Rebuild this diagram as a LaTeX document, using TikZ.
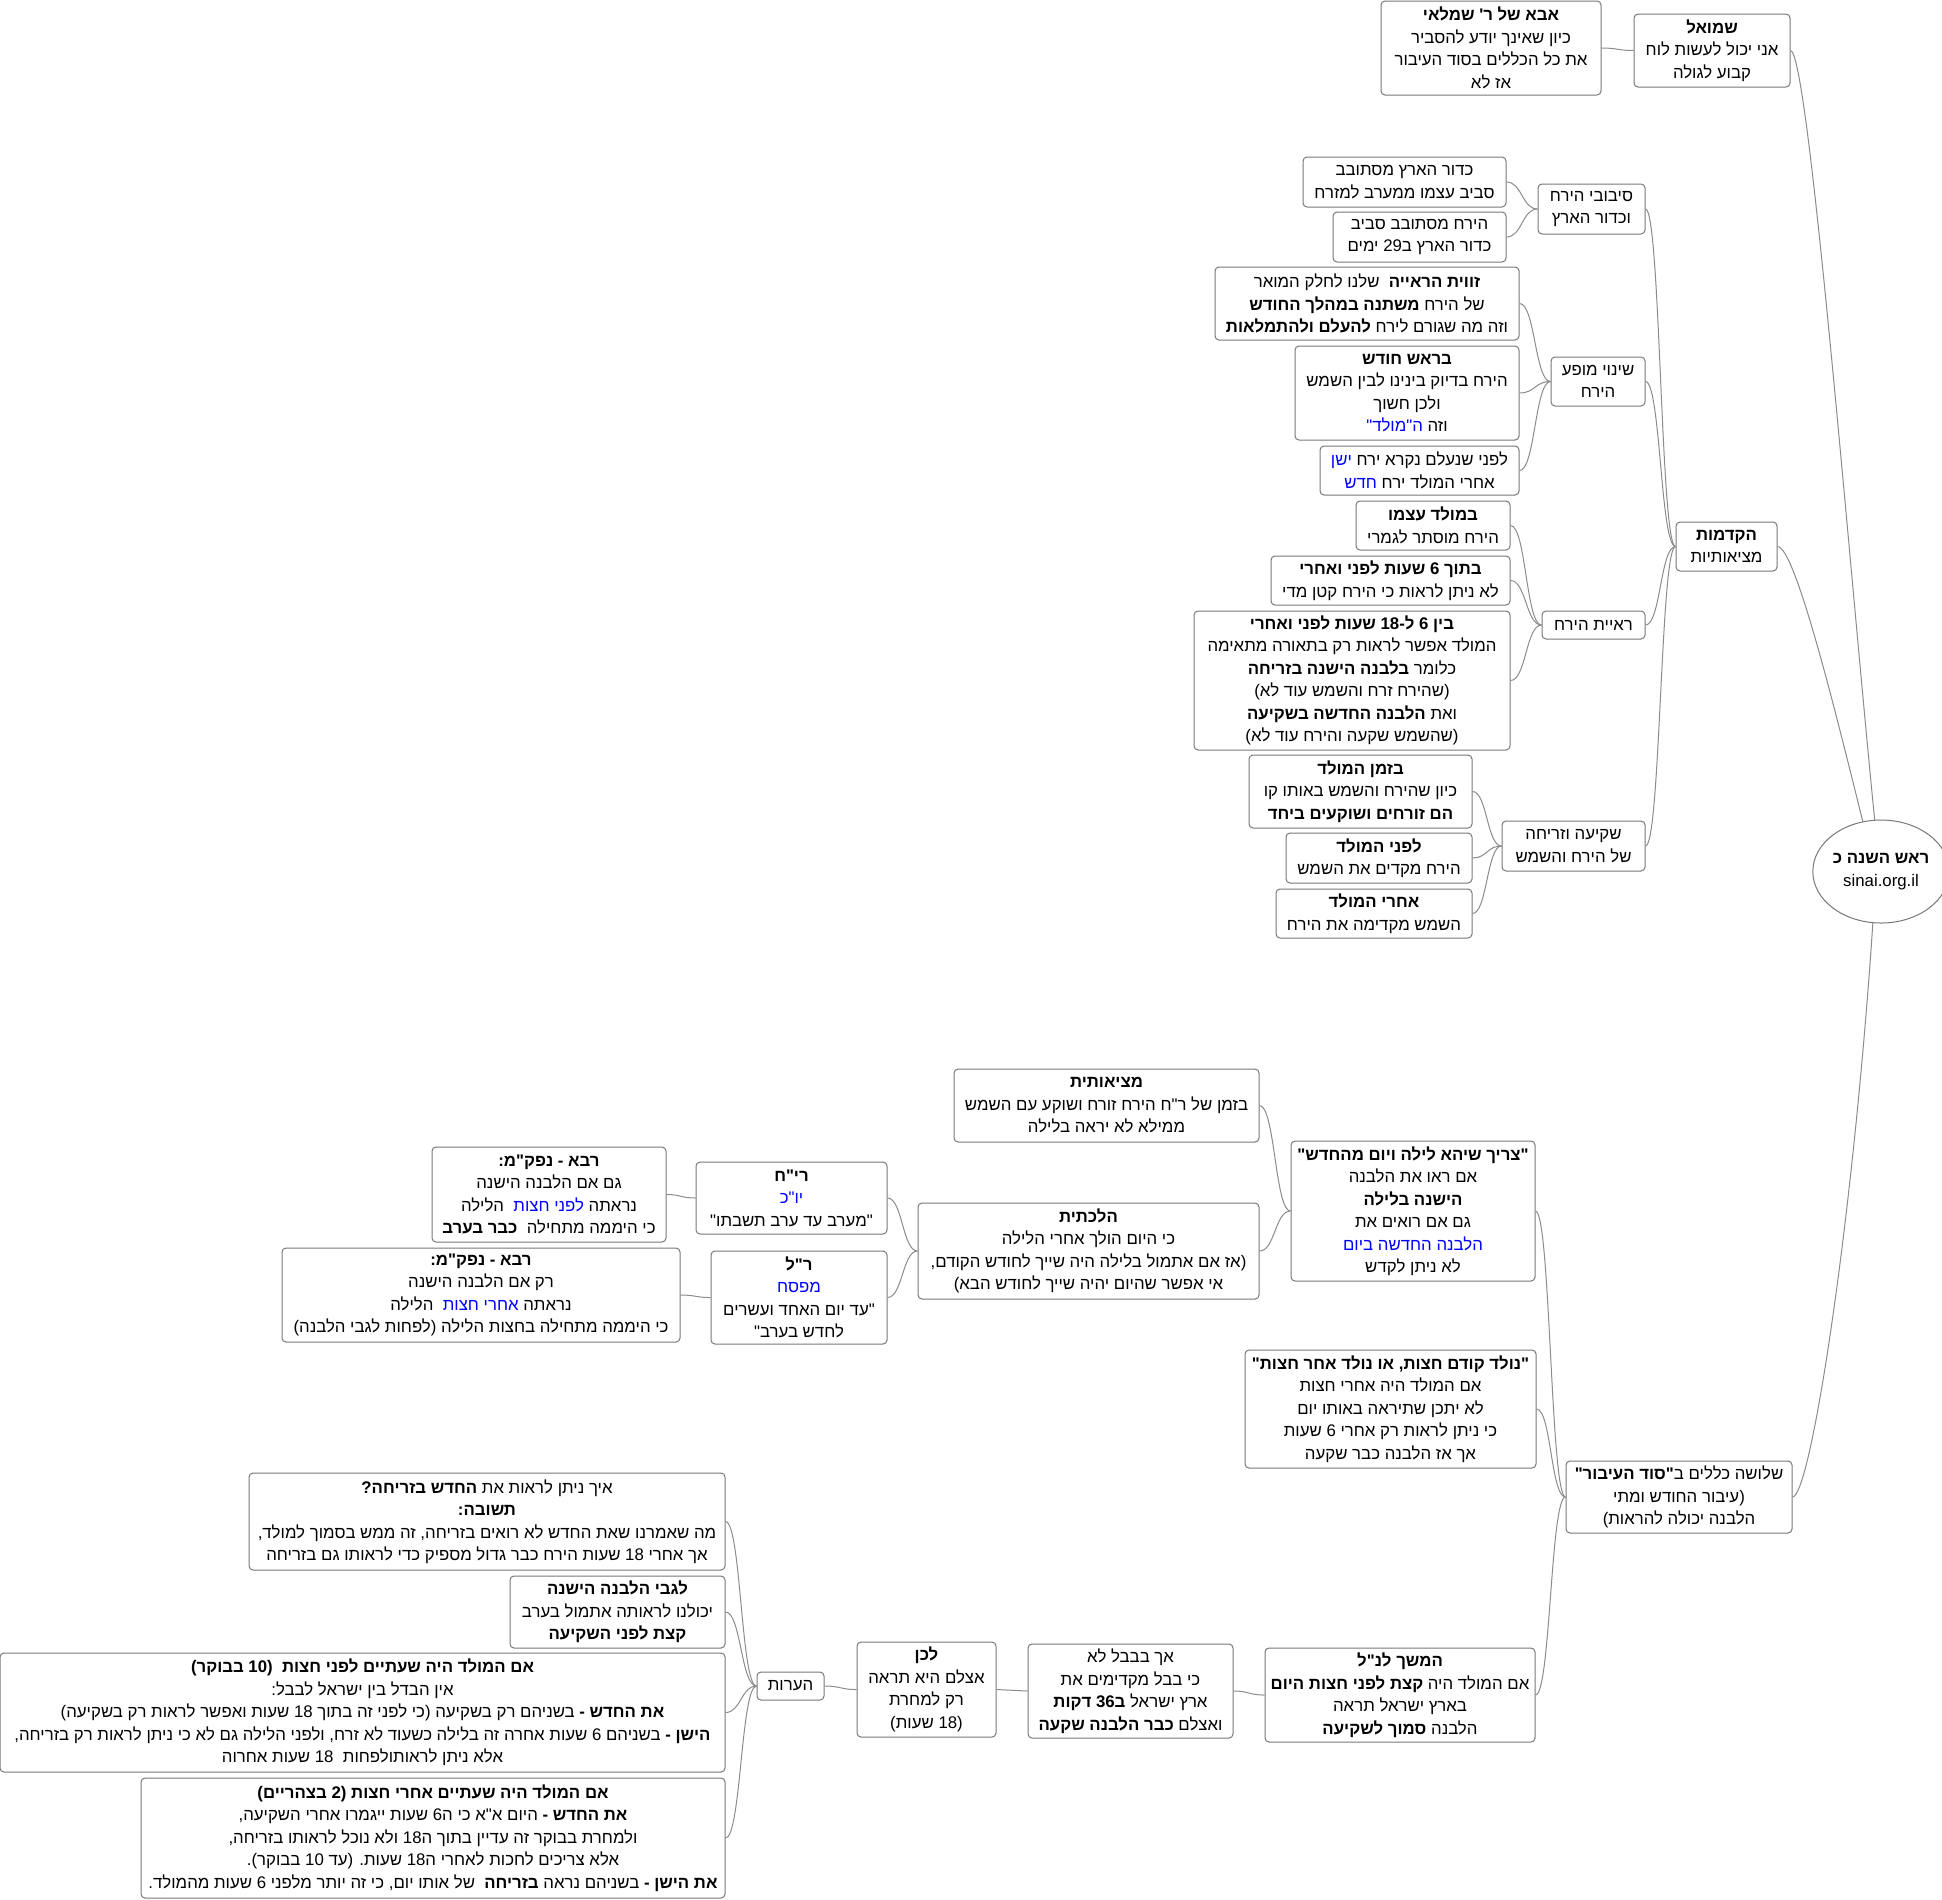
\documentclass[tikz,border=0pt]{standalone}
\usepackage{fontspec}
\setmainfont{Liberation Sans}[Script=Hebrew,Ligatures=TeXOff]
\TeXXeTstate=1
\usetikzlibrary{calc,shapes.geometric}
\definecolor{hblue}{RGB}{0,0,255}
\definecolor{boxc}{RGB}{120,120,120}
\definecolor{linec}{RGB}{140,140,140}
\newcommand\R[1]{\beginR#1\endR}
\newcommand\B[1]{\textbf{#1}}
\newcommand\U[1]{\textcolor{hblue}{\beginR#1\endR}}
\tikzset{
  box/.style={draw=boxc, line width=1pt, rounded corners=4pt, fill=white, align=center,
    inner xsep=2pt, inner ysep=0pt, font=\fontsize{16.8}{22.5}\selectfont},
  link/.style={draw=linec, line width=1pt},
}
\newcommand\nd[6]{\node[box, minimum width=#4, minimum height=#5] (#1) at (#2,#3) {#6};}
\newcommand\lk[2]{\path (#1.west) -- (#2.east) coordinate[pos=0.5] (mid);
  \draw[link] (#1.west) .. controls (mid |- #1.west) and (mid |- #2.east) .. (#2.east);}
\begin{document}
\begin{tikzpicture}[x=1pt,y=-1pt]
\fill[white] (0,0) rectangle (1942,1899);
\useasboundingbox (0,0) rectangle (1942,1899);
% top right
\nd{abba}{1491}{48}{220}{94}{\R{\B{אבא של ר' שמלאי}}\\\R{כיון שאינך יודע להסביר}\\\R{את כל הכללים בסוד העיבור}\\\R{אז לא}}
\nd{shmuel}{1712}{50.5}{156}{73}{\R{\B{שמואל}}\\\R{אני יכול לעשות לוח}\\\R{קבוע לגולה}}
% hakdamot branch
\nd{kadur}{1404.5}{182}{203}{50}{\R{כדור הארץ מסתובב}\\\R{סביב עצמו ממערב למזרח}}
\nd{yareach}{1419.5}{237}{173}{50}{\R{הירח מסתובב סביב}\\\R{כדור הארץ ב29 ימים}}
\nd{sivuvei}{1591.5}{209}{107}{50}{\R{סיבובי הירח}\\\R{וכדור הארץ}}
\nd{zavit}{1367}{303.5}{304}{73}{\R{\B{זווית הראייה}\ \ שלנו לחלק המואר}\\\R{של הירח \B{משתנה במהלך החודש}}\\\R{וזה מה שגורם לירח \B{להעלם ולהתמלאות}}}
\nd{rosh}{1407}{393}{224}{94}{\R{\B{בראש חודש}}\\\R{הירח בדיוק בינינו לבין השמש}\\\R{ולכן חשוך}\\\U{"}\U{ה"מולד} \R{וזה}}
\nd{lifnei}{1419.5}{470.5}{199}{49}{\U{ישן} \R{לפני שנעלם נקרא ירח}\\\U{חדש} \R{אחרי המולד ירח}}
\nd{shinui}{1598}{381.5}{94}{49}{\R{שינוי מופע}\\\R{הירח}}
\nd{bemolad}{1433}{525.5}{154}{49}{\R{\B{במולד עצמו}}\\\R{הירח מוסתר לגמרי}}
\nd{betoch}{1390.5}{580.5}{239}{49}{\R{\B{בתוך 6 שעות לפני ואחרי}}\\\R{לא ניתן לראות כי הירח קטן מדי}}
\nd{bein}{1352}{680.5}{316}{139}{\R{\B{בין 6 ל-18 שעות לפני ואחרי}}\\\R{המולד אפשר לראות רק בתאורה מתאימה}\\\R{כלומר \B{בלבנה הישנה בזריחה}}\\\R{(שהירח זרח והשמש עוד לא)}\\\R{ואת \B{הלבנה החדשה בשקיעה}}\\\R{(שהשמש שקעה והירח עוד לא)}}
\nd{reiyat}{1593.5}{625}{103}{28}{\R{ראיית הירח}}
\nd{hakdamot}{1726.5}{546.5}{101}{49}{\R{\B{הקדמות}}\\\R{מציאותיות}}
\nd{bizman}{1360.5}{791.5}{223}{73}{\R{\B{בזמן המולד}}\\\R{כיון שהירח והשמש באותו קו}\\\R{\B{הם זורחים ושוקעים ביחד}}}
\nd{lifneiMolad}{1379}{858}{186}{50}{\R{\B{לפני המולד}}\\\R{הירח מקדים את השמש}}
\nd{achrei}{1374}{913.5}{196}{49}{\R{\B{אחרי המולד}}\\\R{השמש מקדימה את הירח}}
\nd{shkia}{1573.5}{846}{143}{50}{\R{שקיעה וזריחה}\\\R{של הירח והשמש}}
% root
\node[draw=boxc, line width=1pt, ellipse, fill=white, minimum width=122, minimum height=103, inner sep=0pt, align=center, font=\fontsize{16.8}{22.5}\selectfont] (root) at (1881,871.5) {\R{\B{ראש השנה כ}}\\sinai.org.il};
% lower branch
\nd{metziutit}{1106.5}{1105.5}{305}{73}{\R{\B{מציאותית}}\\\R{בזמן של ר"ח הירח זורח ושוקע עם השמש}\\\R{ממילא לא יראה בלילה}}
\nd{hilchatit}{1088.5}{1251}{341}{96}{\R{\B{הלכתית}}\\\R{כי היום הולך אחרי הלילה}\\\R{(אז אם אתמול בלילה היה שייך לחודש הקודם,}\\\R{אי אפשר שהיום יהיה שייך לחודש הבא)}}
\nd{tzarich}{1413}{1211}{244}{140}{\R{\B{"צריך שיהא לילה ויום מהחדש"}}\\\R{אם ראו את הלבנה}\\\R{\B{הישנה בלילה}}\\\R{גם אם רואים את}\\\U{הלבנה החדשה ביום}\\\R{לא ניתן לקדש}}
\nd{rich}{791.5}{1198}{191}{72}{\R{\B{רי"ח}}\\\U{יו"כ}\\\R{"מערב עד ערב תשבתו"}}
\nd{rava1}{549}{1194.5}{234}{95}{\R{\B{רבא - נפק"מ:}}\\\R{גם אם הלבנה הישנה}\\\R{הלילה}\ \ \U{לפני חצות} \R{נראתה}\\\R{כי היממה מתחילה\ \ \B{כבר בערב}}}
\nd{rl}{799}{1297.5}{176}{93}{\R{\B{ר"ל}}\\\U{מפסח}\\\R{"עד יום האחד ועשרים}\\\R{לחדש בערב"}}
\nd{rava2}{481}{1295}{398}{94}{\R{\B{רבא - נפק"מ:}}\\\R{רק אם הלבנה הישנה}\\\R{הלילה}\ \ \U{אחרי חצות} \R{נראתה}\\\R{כי היממה מתחילה בחצות הלילה (לפחות לגבי הלבנה)}}
\nd{nolad}{1390.5}{1409}{291}{118}{\R{\B{"נולד קודם חצות, או נולד אחר חצות"}}\\\R{אם המולד היה אחרי חצות}\\\R{לא יתכן שתיראה באותו יום}\\\R{כי ניתן לראות רק אחרי 6 שעות}\\\R{אך אז הלבנה כבר שקעה}}
\nd{shlosha}{1679}{1497}{226}{72}{\R{שלושה כללים ב\B{"סוד העיבור"}}\\\R{(עיבור החודש ומתי}\\\R{הלבנה יכולה להראות)}}
\nd{hemshech}{1400}{1695}{270}{94}{\R{\B{המשך לנ"ל}}\\\R{אם המולד היה \B{קצת לפני חצות היום}}\\\R{בארץ ישראל תראה}\\\R{הלבנה \B{סמוך לשקיעה}}}
\nd{ach}{1130.5}{1691}{205}{94}{\R{אך בבבל לא}\\\R{כי בבל מקדימים את}\\\R{ארץ ישראל \B{ב36 דקות}}\\\R{ואצלם \B{כבר הלבנה שקעה}}}
\nd{lachen}{926.5}{1689.5}{139}{95}{\R{\B{לכן}}\\\R{אצלם היא תראה}\\\R{רק למחרת}\\\R{(18 שעות)}}
\nd{haarot}{790.5}{1686}{67}{28}{\R{הערות}}
\nd{eich}{487}{1521.5}{476}{97}{\R{איך ניתן לראות את \B{החדש בזריחה?}}\\\R{\B{תשובה:}}\\\R{מה שאמרנו שאת החדש לא רואים בזריחה, זה ממש בסמוך למולד,}\\\R{אך אחרי 18 שעות הירח כבר גדול מספיק כדי לראותו גם בזריחה}}
\nd{legabei}{617.5}{1612}{215}{72}{\R{\B{לגבי הלבנה הישנה}}\\\R{יכולנו לראותה אתמול בערב}\\\R{\B{קצת לפני השקיעה}}}
\nd{imten}{362.5}{1712.5}{725}{119}{\R{\B{אם המולד היה שעתיים לפני חצות\ \ (10 בבוקר)}}\\\R{אין הבדל בין ישראל לבבל:}\\\R{\B{את החדש -} בשניהם רק בשקיעה (כי לפני זה בתוך 18 שעות ואפשר לראות רק בשקיעה)}\\\R{\B{הישן -} בשניהם 6 שעות אחרה זה בלילה כשעוד לא זרח, ולפני הלילה גם לא כי ניתן לראות רק בזריחה,}\\\R{אלא ניתן לראותולפחות\ \ 18 שעות אחרוה}}
\nd{imtwo}{433}{1838}{584}{120}{\R{\B{אם המולד היה שעתיים אחרי חצות (2 בצהריים)}}\\\R{\B{את החדש -} היום א"א כי ה6 שעות ייגמרו אחרי השקיעה,}\\\R{ולמחרת בבוקר זה עדיין בתוך ה18 ולא נוכל לראותו בזריחה,}\\\R{אלא צריכים לחכות לאחרי ה18 שעות. (עד 10 בבוקר).}\\\R{\B{את הישן -} בשניהם נראה \B{בזריחה}\ \ של אותו יום, כי זה יותר מלפני 6 שעות מהמולד.}}
% connectors
\lk{shmuel}{abba}
\lk{sivuvei}{kadur}
\lk{sivuvei}{yareach}
\lk{shinui}{zavit}
\lk{shinui}{rosh}
\lk{shinui}{lifnei}
\lk{reiyat}{bemolad}
\lk{reiyat}{betoch}
\lk{reiyat}{bein}
\lk{shkia}{bizman}
\lk{shkia}{lifneiMolad}
\lk{shkia}{achrei}
\lk{hakdamot}{sivuvei}
\lk{hakdamot}{shinui}
\lk{hakdamot}{reiyat}
\lk{hakdamot}{shkia}
\lk{shlosha}{tzarich}
\lk{shlosha}{nolad}
\lk{shlosha}{hemshech}
\lk{tzarich}{metziutit}
\lk{tzarich}{hilchatit}
\lk{hilchatit}{rich}
\lk{hilchatit}{rl}
\lk{rich}{rava1}
\lk{rl}{rava2}
\lk{hemshech}{ach}
\lk{ach}{lachen}
\lk{lachen}{haarot}
\lk{haarot}{eich}
\lk{haarot}{legabei}
\lk{haarot}{imten}
\lk{haarot}{imtwo}
\draw[link] (shmuel.east) .. controls +(18,0) and +(-25,-250) .. (root.97);
\draw[link] (hakdamot.east) .. controls +(18,0) and +(-25,-100) .. (root.110);
\draw[link] (shlosha.east) .. controls +(18,0) and +(-20,300) .. (root.-99);
\end{tikzpicture}
\end{document}
